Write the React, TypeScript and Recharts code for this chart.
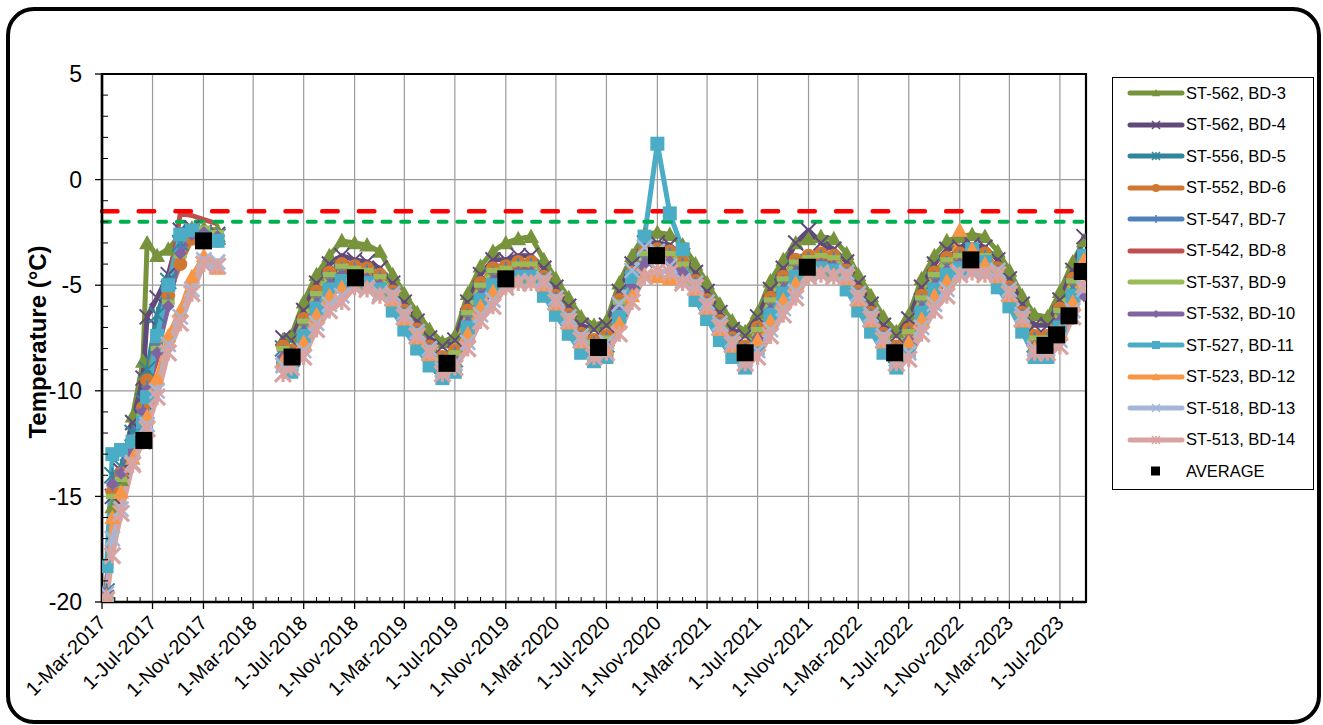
import React from 'react';
import { LineChart, Line, XAxis, YAxis, CartesianGrid, ReferenceLine, ReferenceArea } from 'recharts';

// survey dates (first campaign 2017, gap, then monthly readings 2018-2023)
const sampleDates = [
  '2017-03-12', '2017-03-26', '2017-04-16', '2017-05-14', '2017-06-08', '2017-06-18',
  '2017-07-12', '2017-08-08', '2017-09-06', '2017-10-04', '2017-11-02', '2017-12-05',
  '2018-02-01',
  '2018-05-12', '2018-06-01', '2018-07-01', '2018-08-01', '2018-09-01', '2018-10-01', '2018-11-01', '2018-12-01',
  '2019-01-01', '2019-02-01', '2019-03-01', '2019-04-01', '2019-05-01', '2019-06-01',
  '2019-07-01', '2019-08-01', '2019-09-01', '2019-10-01', '2019-11-01', '2019-12-01',
  '2020-01-01', '2020-02-01', '2020-03-01', '2020-04-01', '2020-05-01', '2020-06-01',
  '2020-07-01', '2020-08-01', '2020-09-01', '2020-10-01', '2020-11-01', '2020-12-01',
  '2021-01-01', '2021-02-01', '2021-03-01', '2021-04-01', '2021-05-01', '2021-06-01',
  '2021-07-01', '2021-08-01', '2021-09-01', '2021-10-01', '2021-11-01', '2021-12-01',
  '2022-01-01', '2022-02-01', '2022-03-01', '2022-04-01', '2022-05-01', '2022-06-01',
  '2022-07-01', '2022-08-01', '2022-09-01', '2022-10-01', '2022-11-01', '2022-12-01',
  '2023-01-01', '2023-02-01', '2023-03-01', '2023-04-01', '2023-05-01', '2023-06-01',
  '2023-07-01', '2023-08-01', '2023-08-28',
];

const bd3 = [-19.6, -15.5, -14.2, -11.2, -8.6, -3.0, -3.6, -3.3, -2.6, -2.3, -2.3, -2.4, null,
  -7.6, -7.4, -5.8, -4.5, -3.6, -2.9, -3.0, -3.1, -3.4, -4.5, -5.4, -6.3, -7.1, -7.7, -7.4, -5.4, -4.1, -3.4, -3.0, -2.8,
  -2.7, -3.8, -4.7, -5.6, -6.5, -6.9, -6.7, -4.9, -3.6, -2.6, -2.5, -2.6, -3.1, -4.0, -4.9, -5.9, -6.7, -7.2, -6.3, -4.8,
  -3.8, -3.0, -2.8, -2.7, -2.8, -3.5, -4.5, -5.5, -6.5, -7.2, -6.4, -4.7, -3.6, -2.9, -2.7, -2.6, -2.7, -3.4, -4.3, -5.5,
  -6.4, -6.5, -5.3, -3.9, -2.9];
const bd4 = [-19.8, -15.0, -13.8, -11.5, -9.4, -6.5, -5.6, -4.5, -2.4, -2.3, -2.5, -2.6, null,
  -7.5, -7.6, -6.2, -4.9, -4.0, -3.6, -3.8, -3.9, -4.2, -4.9, -5.8, -6.7, -7.5, -7.9, -7.6, -5.8, -4.5, -3.8, -3.8, -3.6,
  -3.6, -4.2, -5.1, -6.0, -6.9, -7.1, -6.9, -5.3, -4.0, -3.0, -3.0, -3.1, -3.6, -4.4, -5.3, -6.3, -7.1, -7.4, -6.5, -5.2,
  -4.2, -3.0, -2.4, -3.0, -3.3, -3.9, -4.9, -5.9, -6.9, -7.4, -6.6, -5.1, -4.0, -3.3, -3.2, -3.1, -3.2, -3.8, -4.7, -5.9,
  -6.9, -6.9, -5.7, -4.3, -2.7];
const bd5 = [-19.5, -14.0, -13.6, -12.0, -10.5, -9.0, -6.4, -4.8, -3.0, -2.5, -2.6, -2.7, null,
  -8.0, -8.5, -7.0, -5.7, -4.8, -4.4, -4.4, -4.5, -4.8, -5.6, -6.5, -7.4, -8.2, -8.8, -8.5, -6.6, -5.3, -4.6, -4.4, -4.2,
  -4.2, -4.9, -5.8, -6.7, -7.6, -8.0, -7.8, -6.1, -4.8, -3.8, -3.6, -3.7, -4.2, -5.1, -6.0, -7.0, -7.8, -8.3, -7.4, -6.0,
  -5.0, -4.2, -3.9, -3.8, -3.9, -4.6, -5.6, -6.6, -7.6, -8.3, -7.5, -5.9, -4.8, -4.1, -3.8, -3.7, -3.8, -4.5, -5.4, -6.6,
  -7.8, -7.8, -6.5, -5.1, -4.1];
const bd6 = [-19.8, -14.8, -13.9, -12.4, -10.8, -9.5, -7.6, -5.5, -4.0, -2.8, -2.7, -2.9, null,
  -7.9, -8.1, -6.6, -5.3, -4.4, -4.0, -4.1, -4.2, -4.5, -5.3, -6.2, -7.1, -7.9, -8.4, -8.1, -6.2, -4.9, -4.2, -4.1, -3.9,
  -3.9, -4.6, -5.5, -6.4, -7.3, -7.6, -7.4, -5.7, -4.4, -3.4, -3.3, -3.4, -3.9, -4.8, -5.7, -6.7, -7.5, -7.9, -7.0, -5.6,
  -4.6, -3.8, -3.6, -3.5, -3.6, -4.3, -5.3, -6.3, -7.3, -7.9, -7.1, -5.5, -4.4, -3.7, -3.5, -3.4, -3.5, -4.2, -5.1, -6.3,
  -7.4, -7.4, -6.1, -4.7, -3.7];
const bd7 = [-19.5, -14.5, -13.8, -12.3, -10.9, -9.8, -7.8, -5.7, -3.2, -2.4, -2.5, -2.6, null,
  -8.1, -8.2, -6.8, -5.5, -4.6, -4.2, -4.2, -4.3, -4.6, -5.4, -6.3, -7.2, -8.0, -8.5, -8.2, -6.4, -5.1, -4.4, -4.2, -4.0,
  -4.0, -4.7, -5.6, -6.5, -7.4, -7.7, -7.5, -5.9, -4.6, -3.6, -3.4, -3.5, -4.0, -4.9, -5.8, -6.8, -7.6, -8.0, -7.1, -5.8,
  -4.8, -4.0, -3.7, -3.6, -3.7, -4.4, -5.4, -6.4, -7.4, -8.0, -7.2, -5.7, -4.6, -3.9, -3.6, -3.5, -3.6, -4.3, -5.2, -6.4,
  -7.5, -7.5, -6.3, -4.9, -3.9];
const bd8 = [-19.4, -14.6, -14.0, -12.5, -11.0, -10.0, -8.5, -5.2, -1.6, -1.7, -1.9, -2.1, null,
  -8.2, -8.3, -6.9, -5.6, -4.7, -4.3, -4.3, -4.4, -4.7, -5.5, -6.4, -7.3, -8.1, -8.6, -8.3, -6.5, -5.2, -4.5, -4.3, -4.1,
  -4.1, -4.8, -5.7, -6.6, -7.5, -7.8, -7.6, -6.0, -4.7, -3.7, -3.5, -3.6, -4.1, -5.0, -5.9, -6.9, -7.7, -8.1, -7.2, -5.9,
  -4.9, -4.1, -3.8, -3.7, -3.8, -4.5, -5.5, -6.5, -7.5, -8.1, -7.3, -5.8, -4.7, -4.0, -3.7, -3.6, -3.7, -4.4, -5.3, -6.5,
  -7.6, -7.6, -6.4, -5.0, -4.0];
const bd9 = [-19.7, -15.0, -14.2, -12.6, -11.2, -10.2, -8.0, -5.8, -3.6, -2.4, -2.3, -2.5, null,
  -8.0, -8.2, -6.7, -5.4, -4.5, -4.1, -4.2, -4.3, -4.6, -5.4, -6.3, -7.2, -8.0, -8.5, -8.2, -6.3, -5.0, -4.3, -4.2, -4.0,
  -4.0, -4.7, -5.6, -6.5, -7.4, -7.7, -7.5, -5.8, -4.5, -3.5, -3.4, -3.5, -4.0, -4.9, -5.8, -6.8, -7.6, -8.0, -7.1, -5.7,
  -4.7, -3.9, -3.7, -3.6, -3.7, -4.4, -5.4, -6.4, -7.4, -8.0, -7.2, -5.6, -4.5, -3.8, -3.6, -3.5, -3.6, -4.3, -5.2, -6.4,
  -7.5, -7.5, -6.2, -4.8, -3.8];
const bd10 = [-19.6, -14.4, -13.9, -12.5, -11.0, -10.0, -8.2, -6.0, -3.5, -2.6, -2.5, -2.7, null,
  -8.4, -8.6, -7.2, -5.9, -5.0, -4.6, -4.6, -4.7, -5.0, -5.8, -6.7, -7.6, -8.4, -8.9, -8.6, -6.8, -5.5, -4.8, -4.6, -4.4,
  -4.4, -5.1, -6.0, -6.9, -7.8, -8.1, -7.9, -6.3, -5.0, -4.0, -3.8, -3.9, -4.4, -5.3, -6.2, -7.2, -8.0, -8.5, -7.5, -6.2,
  -5.2, -4.4, -4.1, -4.0, -4.1, -4.8, -5.8, -6.8, -7.8, -8.5, -7.6, -6.1, -5.0, -4.3, -4.0, -3.9, -4.0, -4.7, -5.6, -6.8,
  -7.9, -7.9, -6.7, -5.6, -5.5];
const bd11 = [-18.3, -13.0, -12.8, -12.4, -11.5, -10.3, -7.4, -5.0, -2.6, -2.4, -2.8, -2.9, null,
  -8.8, -9.1, -7.4, -6.1, -5.2, -4.8, -4.8, -4.9, -5.2, -6.2, -7.1, -8.0, -8.8, -9.4, -9.1, -7.0, -5.7, -5.0, -4.8, -4.6,
  -4.6, -5.5, -6.4, -7.3, -8.2, -8.6, -8.4, -6.5, -4.6, -2.7, 1.7, -1.6, -3.3, -5.7, -6.6, -7.6, -8.4, -8.9, -8.0, -6.4,
  -5.4, -4.6, -4.3, -4.2, -4.3, -5.2, -6.2, -7.2, -8.2, -8.9, -8.1, -6.3, -5.2, -4.5, -4.2, -3.3, -3.9, -5.1, -6.0, -7.2,
  -8.4, -8.4, -7.0, -5.5, -3.6];
const bd12 = [-19.7, -16.0, -14.8, -13.2, -12.0, -11.2, -9.4, -7.4, -6.2, -4.6, -3.6, -4.2, null,
  -8.6, -8.7, -7.7, -6.4, -5.5, -5.1, -5.0, -5.1, -5.4, -5.7, -6.6, -7.5, -8.3, -9.0, -8.7, -7.3, -6.0, -5.3, -5.0, -4.8,
  -4.8, -5.0, -5.9, -6.8, -7.7, -8.2, -8.0, -6.8, -5.5, -4.5, -4.6, -4.7, -4.8, -5.2, -6.1, -7.1, -7.9, -8.5, -7.6, -6.7,
  -5.7, -4.9, -4.5, -4.4, -4.5, -4.7, -5.7, -6.7, -7.7, -8.5, -7.7, -6.6, -5.5, -4.8, -2.4, -3.3, -4.0, -4.6, -5.5, -6.7,
  -8.0, -8.0, -7.2, -5.8, -3.8];
const bd13 = [-19.6, -17.0, -15.6, -13.4, -12.4, -11.6, -10.0, -7.8, -6.5, -5.2, -3.8, -3.9, null,
  -8.8, -8.7, -8.1, -6.8, -5.9, -5.5, -5.0, -5.1, -5.4, -5.4, -6.3, -7.2, -8.0, -9.0, -8.7, -7.7, -6.4, -5.7, -5.0, -4.8,
  -4.8, -4.7, -5.6, -6.5, -7.4, -8.2, -7.7, -5.9, -4.3, -3.2, -3.4, -4.1, -4.8, -4.9, -5.8, -6.8, -7.6, -8.5, -8.1, -7.1,
  -6.1, -5.3, -4.5, -4.4, -4.5, -4.4, -5.4, -6.4, -7.4, -8.5, -8.2, -7.0, -5.9, -5.2, -4.4, -4.3, -4.4, -4.3, -5.2, -6.4,
  -8.0, -8.0, -7.6, -6.2, -5.2];
const bd14 = [-19.9, -17.8, -15.8, -13.5, -12.4, -11.8, -10.3, -8.2, -6.8, -5.4, -4.0, -4.1, null,
  -9.2, -8.9, -8.4, -7.1, -6.2, -5.8, -5.1, -5.2, -5.5, -5.6, -6.5, -7.4, -8.2, -9.2, -8.9, -8.0, -6.7, -6.0, -5.1, -4.9,
  -4.9, -4.9, -5.8, -6.7, -7.6, -8.4, -8.2, -7.3, -5.8, -4.6, -4.3, -4.4, -4.9, -5.1, -6.0, -7.0, -7.8, -8.7, -8.4, -7.4,
  -6.4, -5.6, -4.6, -4.5, -4.6, -4.6, -5.6, -6.6, -7.6, -8.7, -8.5, -7.3, -6.2, -5.5, -4.5, -4.4, -4.5, -4.5, -5.4, -6.6,
  -8.2, -8.2, -7.9, -6.5, -5.0];

const seriesNames = [
  'ST-562, BD-3', 'ST-562, BD-4', 'ST-556, BD-5', 'ST-552, BD-6', 'ST-547, BD-7', 'ST-542, BD-8',
  'ST-537, BD-9', 'ST-532, BD-10', 'ST-527, BD-11', 'ST-523, BD-12', 'ST-518, BD-13', 'ST-513, BD-14',
];
const seriesValues = [bd3, bd4, bd5, bd6, bd7, bd8, bd9, bd10, bd11, bd12, bd13, bd14];
const seriesColors = [
  '#77933C', '#604A7B', '#31859C', '#D0782F', '#4F81BD', '#C0504D',
  '#9BBB59', '#8064A2', '#4BACC6', '#F79646', '#A5B7D9', '#D9A3A1',
];
const seriesMarkers = ['triangle', 'x', 'star', 'circle', 'plus', 'none', 'dash', 'diamond', 'square', 'triangle', 'x', 'star'];

const avgDates = [
  '2017-06-10', '2017-11-01', '2018-06-03', '2018-11-03', '2019-06-12', '2019-11-01', '2020-06-12', '2020-10-30',
  '2021-06-01', '2021-10-29', '2022-05-28', '2022-11-28', '2023-05-26', '2023-06-23', '2023-07-23', '2023-08-24',
];
const avgValues = [-12.35, -2.9, -8.4, -4.65, -8.7, -4.7, -7.95, -3.6, -8.2, -4.15, -8.2, -3.8, -7.85, -7.35, -6.45, -4.35];

const xTickLabels = [
  '1-Mar-2017', '1-Jul-2017', '1-Nov-2017', '1-Mar-2018', '1-Jul-2018', '1-Nov-2018', '1-Mar-2019',
  '1-Jul-2019', '1-Nov-2019', '1-Mar-2020', '1-Jul-2020', '1-Nov-2020', '1-Mar-2021', '1-Jul-2021',
  '1-Nov-2021', '1-Mar-2022', '1-Jul-2022', '1-Nov-2022', '1-Mar-2023', '1-Jul-2023',
];
const yMajorTicks = [-20, -15, -10, -5, 0, 5];
const redLimit = -1.5;
const greenLimit = -2;

const FONT = '"Liberation Sans", Arial, sans-serif';
const MONTHS = ['Jan', 'Feb', 'Mar', 'Apr', 'May', 'Jun', 'Jul', 'Aug', 'Sep', 'Oct', 'Nov', 'Dec'];
const dayOf = (y: number, m: number, d: number) => Date.UTC(y, m, d) / 86400000;
const isoDay = (s: string) => {
  const [y, m, d] = s.split('-').map(Number);
  return dayOf(y, m - 1, d);
};
const labelDay = (s: string) => {
  const [d, mon, y] = s.split('-');
  return dayOf(Number(y), MONTHS.indexOf(mon), Number(d));
};

const xDomain = [dayOf(2017, 2, 1), dayOf(2023, 8, 2)];
const majorLabel = new Map(xTickLabels.map((l) => [labelDay(l), l]));
const majorDays = xTickLabels.map(labelDay);
const monthTicks: number[] = [];
for (let y = 2017; y <= 2023; y++) {
  for (let m = 0; m < 12; m++) {
    const t = dayOf(y, m, 1);
    if (t >= xDomain[0] && t <= xDomain[1]) monthTicks.push(t);
  }
}
const yTicks: number[] = [];
for (let v = -20; v <= 5; v++) yTicks.push(v);

const rows = sampleDates.map((d, i) => {
  const row: any = { t: isoDay(d) };
  seriesValues.forEach((arr, k) => {
    row[`s${k}`] = arr[i];
  });
  return row;
});
const avgRows = avgDates.map((d, i) => ({ t: isoDay(d), v: avgValues[i] }));

function marker(kind: string, cx: number, cy: number, color: string, size: number, sw = 1.8) {
  const h = size / 2;
  switch (kind) {
    case 'triangle':
      return <polygon points={`${cx},${cy - h} ${cx + h},${cy + h * 0.8} ${cx - h},${cy + h * 0.8}`} fill={color} />;
    case 'x':
      return <path d={`M${cx - h},${cy - h}L${cx + h},${cy + h}M${cx - h},${cy + h}L${cx + h},${cy - h}`} stroke={color} strokeWidth={sw} />;
    case 'star':
      return <path d={`M${cx - h},${cy - h}L${cx + h},${cy + h}M${cx - h},${cy + h}L${cx + h},${cy - h}M${cx},${cy - h}L${cx},${cy + h}`} stroke={color} strokeWidth={sw} />;
    case 'circle':
      return <circle cx={cx} cy={cy} r={h} fill={color} />;
    case 'plus':
      return <path d={`M${cx - h},${cy}L${cx + h},${cy}M${cx},${cy - h}L${cx},${cy + h}`} stroke={color} strokeWidth={sw} />;
    case 'dash':
      return <rect x={cx - h} y={cy - size / 5} width={size} height={(size * 2) / 5} fill={color} />;
    case 'diamond':
      return <polygon points={`${cx},${cy - h} ${cx + h},${cy} ${cx},${cy + h} ${cx - h},${cy}`} fill={color} />;
    case 'square':
      return <rect x={cx - h} y={cy - h} width={size} height={size} fill={color} />;
    default:
      return null;
  }
}

const markerSize: Record<string, number> = { triangle: 16, x: 15, star: 16, circle: 14, plus: 12, dash: 13, diamond: 13, square: 14 };
const markerStroke = [2, 2, 2, 2, 2, 2, 2, 2, 2, 2, 2.6, 3.2];

const makeDot = (k: number) => (p: any) => {
  const { cx, cy, index } = p;
  if (cx == null || cy == null || Number.isNaN(cy)) return <g key={`d${k}-${index}`} />;
  const kind = seriesMarkers[k];
  return <g key={`d${k}-${index}`}>{marker(kind, cx, cy, seriesColors[k], markerSize[kind] || 0, markerStroke[k])}</g>;
};

const avgDot = (p: any) => {
  const { cx, cy, index } = p;
  if (cx == null || cy == null) return <g key={`a${index}`} />;
  return <rect key={`a${index}`} x={cx - 8.5} y={cy - 8.5} width={17} height={17} fill="#000" />;
};

const renderXTick = (p: any) => {
  const { x, y, payload } = p;
  const v = payload.value;
  const label = majorLabel.get(v);
  if (!label) return <line key={`xm${v}`} x1={x} x2={x} y1={y} y2={y - 5} stroke="#000" strokeWidth={1} />;
  const ax = x + 5;
  const ay = y + 22;
  return (
    <g key={`xM${v}`}>
      <line x1={x} x2={x} y1={y} y2={y + 7} stroke="#000" strokeWidth={1.3} />
      <text x={ax} y={ay} textAnchor="end" transform={`rotate(-45 ${ax} ${ay})`} fontSize={20} fontFamily={FONT} fill="#000">
        {label}
      </text>
    </g>
  );
};

const renderYTick = (p: any) => {
  const { x, y, payload } = p;
  const v = payload.value;
  if (!yMajorTicks.includes(v)) return <line key={`ym${v}`} x1={x} x2={x + 6} y1={y} y2={y} stroke="#000" strokeWidth={1} />;
  return (
    <g key={`yM${v}`}>
      <line x1={x - 7} x2={x} y1={y} y2={y} stroke="#000" strokeWidth={1.3} />
      <text x={x - 20} y={y} dy="0.36em" textAnchor="end" fontSize={23} fontFamily={FONT} fill="#000">
        {v}
      </text>
    </g>
  );
};

function LegendBox() {
  const items = seriesNames.map((n, i) => ({ name: n, color: seriesColors[i], kind: seriesMarkers[i], avg: false }));
  items.push({ name: 'AVERAGE', color: '#000', kind: 'square', avg: true });
  return (
    <div
      style={{
        position: 'absolute', left: 1112, top: 77, width: 202, height: 413,
        border: '1px solid #000', boxSizing: 'border-box', background: '#fff', fontFamily: FONT,
      }}
    >
      {items.map((it, i) => (
        <div key={it.name} style={{ position: 'absolute', left: 0, top: 3 + i * 31.5, height: 24, display: 'flex', alignItems: 'center' }}>
          <svg width={73} height={24}>
            {!it.avg && <line x1={17} x2={69} y1={12} y2={12} stroke={it.color} strokeWidth={5} strokeLinecap="round" />}
            {it.avg
              ? <rect x={38} y={7.5} width={9} height={9} fill="#000" />
              : marker(it.kind, 43, 12, it.color, 8, 1.5)}
          </svg>
          <span style={{ fontSize: 16.5, color: '#000', whiteSpace: 'nowrap' }}>{it.name}</span>
        </div>
      ))}
    </div>
  );
}

export default function App() {
  return (
    <div style={{ position: 'absolute', left: 0, top: 0, width: 1323, height: 725, background: '#fff', fontFamily: FONT }}>
      <LineChart width={1323} height={725} data={rows} margin={{ top: 74, right: 237, bottom: 33, left: 42 }}>
        <CartesianGrid stroke="#9a9a9a" strokeWidth={1.2} verticalValues={majorDays} horizontalValues={[-15, -10, -5, 0]} />
        <XAxis
          dataKey="t" type="number" domain={xDomain} ticks={monthTicks} interval={0} allowDataOverflow
          tickLine={false} tickSize={0} tickMargin={0} tick={renderXTick} height={90}
          axisLine={{ stroke: '#000', strokeWidth: 2.5 }}
        />
        <YAxis
          type="number" domain={[-20, 5]} ticks={yTicks} interval={0} allowDataOverflow
          tickLine={false} tickSize={0} tickMargin={0} tick={renderYTick} width={60}
          axisLine={{ stroke: '#000', strokeWidth: 2.5 }}
        />
        {seriesNames.map((n, k) => (
          <Line
            key={n} name={n} dataKey={`s${k}`} type="linear" stroke={seriesColors[k]} strokeWidth={5}
            strokeLinejoin="round" dot={makeDot(k)} activeDot={false} connectNulls={false} isAnimationActive={false}
          />
        ))}
        <ReferenceLine y={redLimit} stroke="#FF0000" strokeWidth={4.5} strokeDasharray="15.5 21.2" strokeLinecap="round" />
        <ReferenceLine y={greenLimit} stroke="#00B050" strokeWidth={4} strokeDasharray="8 10.7" strokeLinecap="round" />
        <ReferenceArea x1={xDomain[0]} x2={xDomain[1]} y1={-20} y2={5} fill="none" fillOpacity={0} stroke="#000" strokeWidth={2.2} ifOverflow="visible" />
        <Line
          data={avgRows} dataKey="v" name="AVERAGE" stroke="none" strokeWidth={0} dot={avgDot}
          activeDot={false} isAnimationActive={false} legendType="none"
        />
      </LineChart>
      <div
        style={{
          position: 'absolute', left: 38, top: 342, transform: 'translate(-50%, -50%) rotate(-90deg)',
          fontSize: 24, fontWeight: 'bold', whiteSpace: 'nowrap', color: '#000',
        }}
      >
        Temperature (°C)
      </div>
      <LegendBox />
      <div
        style={{
          position: 'absolute', left: 6, top: 7, width: 1315, height: 717, border: '4px solid #000',
          borderRadius: 28, boxSizing: 'border-box', pointerEvents: 'none',
        }}
      />
    </div>
  );
}
